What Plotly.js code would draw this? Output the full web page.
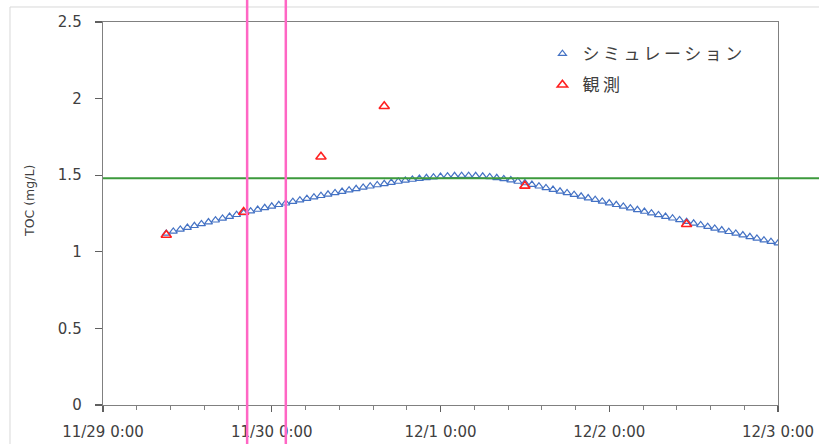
<!DOCTYPE html>
<html>
<head>
<meta charset="utf-8">
<script src="https://cdn.plot.ly/plotly-3.0.1.min.js"></script>
<style>
html,body{margin:0;padding:0;background:#fff;}
#chart{width:819px;height:444px;}
.legendtext{letter-spacing:3.5px;}
</style>
</head>
<body>
<div id="chart"></div>
<script>
// ---- data ----
var seriesNames = ['シミュレーション', '観測'];
var simStart = '2020-11-29 09:00';   // hourly simulation output starts here
var simValues = [
  1.120, 1.133, 1.146, 1.158, 1.170, 1.182, 1.194, 1.206, 1.218, 1.230,
  1.242, 1.254, 1.265, 1.276, 1.287, 1.297, 1.307, 1.317, 1.327, 1.337,
  1.347, 1.357, 1.366, 1.375, 1.384, 1.393, 1.402, 1.411, 1.420, 1.428,
  1.436, 1.444, 1.452, 1.459, 1.466, 1.472, 1.478, 1.483, 1.487, 1.491,
  1.494, 1.496, 1.497, 1.497, 1.496, 1.493, 1.489, 1.483, 1.476, 1.468,
  1.459, 1.449, 1.439, 1.428, 1.417, 1.406, 1.395, 1.384, 1.373, 1.362,
  1.351, 1.340, 1.329, 1.318, 1.307, 1.296, 1.285, 1.274, 1.263, 1.252,
  1.241, 1.230, 1.219, 1.208, 1.197, 1.186, 1.175, 1.164, 1.153, 1.142,
  1.131, 1.120, 1.109, 1.098, 1.087, 1.076, 1.066, 1.056
];
var obsTimes = ['2020-11-29 09:00', '2020-11-29 20:00', '2020-11-30 07:00',
                '2020-11-30 16:00', '2020-12-01 12:00', '2020-12-02 11:00'];
var obsValues = [1.11, 1.26, 1.62, 1.95, 1.43, 1.18];
var thresholdValue = 1.48;
var markerTimes = ['2020-11-29 20:30', '2020-11-30 02:00'];
var xRange = ['2020-11-29 00:00', '2020-12-03 00:00'];
var yTitle = 'TOC (mg/L)';

// hourly timestamps for the simulation
function pad(n){return (n<10?'0':'')+n;}
var simTimes = simValues.map(function(v,i){
  var t = new Date(Date.UTC(2020,10,29,9,0) + i*3600000);
  return t.getUTCFullYear()+'-'+pad(t.getUTCMonth()+1)+'-'+pad(t.getUTCDate())+' '+pad(t.getUTCHours())+':00';
});

var tickFont = {family:'DejaVu Sans, Arial, sans-serif', size:15, color:'#404040'};

var traces = [
  {x: simTimes, y: simValues, type:'scatter', mode:'markers', name: seriesNames[0],
   legendgroup:'a',
   marker:{symbol:'triangle-up-open', size:7, color:'#4472C4', line:{width:1.2, color:'#4472C4'}}},
  {x: obsTimes, y: obsValues, type:'scatter', mode:'markers', name: seriesNames[1],
   legendgroup:'b',
   marker:{symbol:'triangle-up-open', size:9, color:'#FF2020', line:{width:1.6, color:'#FF2020'}}}
];

var shapes = [
  // chart-area frame
  {type:'rect', xref:'paper', yref:'paper', x0:-0.1378, x1:1.1, y0:-0.2, y1:1.0392,
   line:{color:'#d9d9d9', width:1}, layer:'below'},
  {type:'line', xref:'paper', x0:0, x1:1.07, yref:'y', y0:thresholdValue, y1:thresholdValue,
   line:{color:'#3c9a3c', width:2}}
];
markerTimes.forEach(function(t){
  shapes.push({type:'line', xref:'x', x0:t, x1:t, yref:'paper', y0:-0.2, y1:1.2,
    line:{color:'#ff66c4', width:2.5}});
});

var layout = {
  width:819, height:444,
  margin:{l:103, r:41, t:22, b:39, pad:0},
  paper_bgcolor:'#ffffff', plot_bgcolor:'#ffffff',
  showlegend:true,
  legend:{x:0.651, y:0.963, xanchor:'left', yanchor:'top', bgcolor:'rgba(0,0,0,0)',
          font:{family:'Noto Sans CJK JP, sans-serif', size:17, color:'#404040'},
          traceorder:'grouped', tracegroupgap:6, itemwidth:30},
  xaxis:{type:'date', range:xRange, showgrid:false, zeroline:false,
         showline:true, linecolor:'#808080', linewidth:1.3, mirror:true,
         ticks:'outside', ticklen:6, tickcolor:'#606060', tickwidth:1.3,
         tick0:'2020-11-29', dtick:86400000, tickformat:'%-m/%-d %-H:%M',
         tickfont:tickFont, ticklabelstandoff:7,
         minor:{ticks:'outside', ticklen:4, tick0:'2020-11-29', dtick:17280000, tickcolor:'#808080', tickwidth:1}},
  xaxis2:{type:'date', range:xRange, overlaying:'x', anchor:'y', side:'bottom',
          showgrid:false, zeroline:false, showline:false, showticklabels:false,
          ticks:'inside', ticklen:6, tickcolor:'#606060', tickwidth:1.3,
          tick0:'2020-11-29', dtick:86400000},
  yaxis:{range:[0,2.5], dtick:0.5, showgrid:false, zeroline:false,
         showline:true, linecolor:'#808080', linewidth:1.3, mirror:true,
         ticks:'outside', ticklen:7, tickcolor:'#606060', tickwidth:1.3,
         tickfont:tickFont, ticklabelstandoff:10},
  yaxis2:{range:[0,2.5], dtick:0.5, overlaying:'y', anchor:'x', side:'left',
          showgrid:false, zeroline:false, showline:false, showticklabels:false,
          ticks:'inside', ticklen:7, tickcolor:'#606060', tickwidth:1.3},
  shapes:shapes,
  annotations:[
    {text:yTitle, xref:'paper', yref:'paper', x:-0.108, y:0.533, textangle:-90,
     showarrow:false, xanchor:'center', yanchor:'middle',
     font:{family:'DejaVu Sans, Arial, sans-serif', size:12.5, color:'#404040'}}
  ]
};

Plotly.newPlot('chart', traces, layout, {displayModeBar:false, staticPlot:true});
</script>
</body>
</html>
